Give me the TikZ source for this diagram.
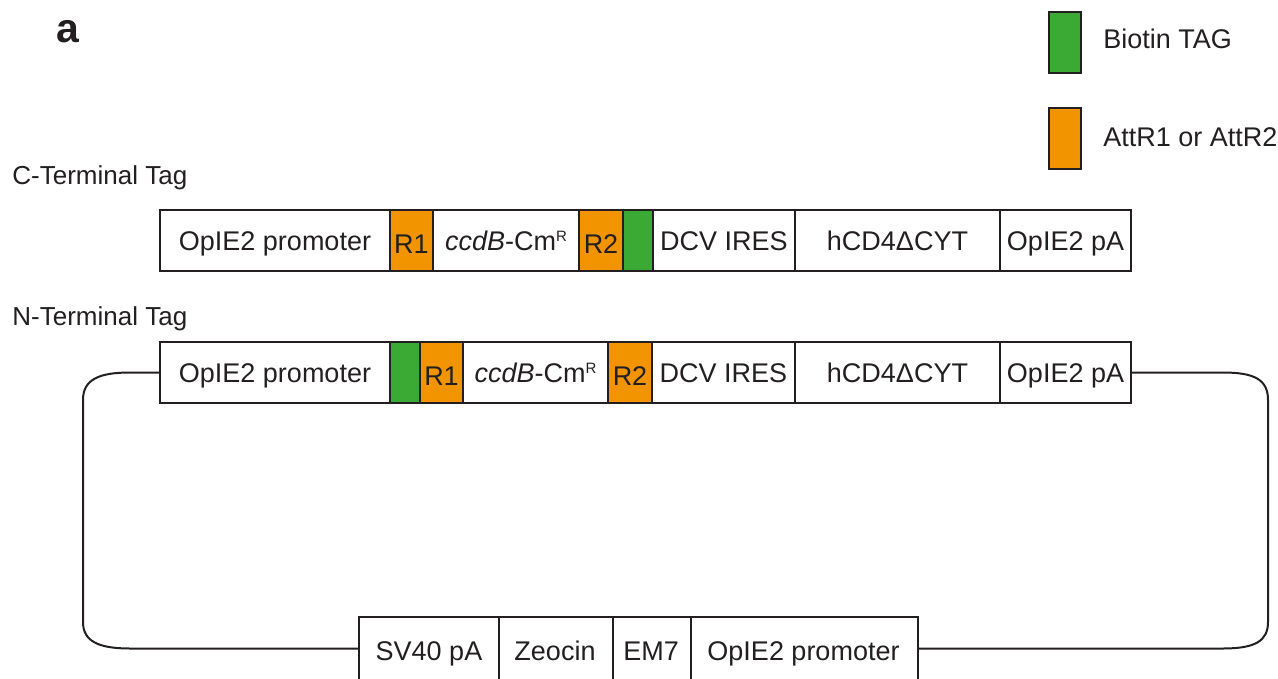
\documentclass[tikz,border=0pt]{standalone}
\usepackage{fontspec}
\setmainfont{Liberation Sans}
\definecolor{gr}{RGB}{58,170,53}
\definecolor{og}{RGB}{242,148,0}
\definecolor{ln}{RGB}{35,31,32}
\tikzset{
  seg/.style={draw=ln, line width=1pt, inner sep=0pt, minimum height=30.5pt,
    text height=9.67pt, text depth=0pt, font=\fontsize{13.5}{16}\selectfont, text=ln},
  rseg/.style={seg, fill=og, text height=12.67pt},
  gseg/.style={seg, fill=gr},
  bseg/.style={seg, draw=none, text height=11.5pt},
  lbl/.style={inner sep=0pt, anchor=base west, font=\fontsize{13.5}{16}\selectfont, text=ln},
  loopline/.style={draw=ln, line width=1pt},
}
\newcommand\segm[6]{\node[#1, minimum width={(#4-#3)*0.5pt}] (#2) at ({(#3+#4)/2}, #5) {#6};}
\newcommand\ccdbcm{\textit{ccdB}-Cm\raisebox{4.3pt}{\fontsize{7.5}{8}\selectfont R}}
\begin{document}
\begin{tikzpicture}[x=0.5pt, y=-0.5pt]
\useasboundingbox (0,0) rectangle (1278,679);
% panel label and titles
\node[lbl, font=\fontsize{20.5}{24}\selectfont\bfseries] (pa) at (56,43) {a};
\node[lbl, font=\fontsize{13}{16}\selectfont] (ct) at (12,185) {C-Terminal Tag};
\node[lbl, font=\fontsize{13}{16}\selectfont] (nt) at (12,325) {N-Terminal Tag};
% legend
\segm{gseg}{lg}{1049}{1081}{42.5}{}
\segm{seg, fill=og}{lo}{1049}{1081}{138.5}{}
\node[lbl] (lgt) at (1103,49) {Biotin TAG};
\node[lbl] (lot) at (1103,147) {AttR1 or AttR2};
% C-terminal row
\segm{seg}{c1}{160}{390}{240.5}{OpIE2 promoter}
\segm{rseg}{c2}{390}{433}{240.5}{R1}
\segm{seg}{c3}{433}{579}{240.5}{\ccdbcm}
\segm{rseg}{c4}{579}{623}{240.5}{R2}
\segm{gseg}{c5}{623}{653}{240.5}{}
\segm{seg}{c6}{653}{795}{240.5}{DCV IRES}
\segm{seg}{c7}{795}{1000}{240.5}{hCD4ΔCYT}
\segm{seg}{c8}{1000}{1131}{240.5}{OpIE2 pA}
% N-terminal row
\segm{seg}{n1}{160}{390}{372.5}{OpIE2 promoter}
\segm{gseg}{n2}{390}{420}{372.5}{}
\segm{rseg}{n3}{420}{463}{372.5}{R1}
\segm{seg}{n4}{463}{608}{372.5}{\ccdbcm}
\segm{rseg}{n5}{608}{652}{372.5}{R2}
\segm{seg}{n6}{652}{795}{372.5}{DCV IRES}
\segm{seg}{n7}{795}{1000}{372.5}{hCD4ΔCYT}
\segm{seg}{n8}{1000}{1131}{372.5}{OpIE2 pA}
% bottom row
\segm{bseg}{b1}{360}{498}{648.5}{SV40 pA}
\segm{bseg}{b2}{498}{612}{648.5}{Zeocin}
\segm{bseg}{b3}{612}{690}{648.5}{EM7}
\segm{bseg}{b4}{690}{917}{648.5}{OpIE2 promoter}
\draw[loopline] (b1.south west) -- (b1.north west) -- (b4.north east) -- (b4.south east);
\draw[loopline] (b1.north east) -- (b1.south east);
\draw[loopline] (b2.north east) -- (b2.south east);
\draw[loopline] (b3.north east) -- (b3.south east);
% plasmid backbone
\draw[loopline] (n1.west) -- (130,372.5) .. controls (98,372.5) and (83,380) .. (83,400)
  -- (83,622) .. controls (83,641) and (98,648.5) .. (130,648.5) -- (b1.west);
\draw[loopline] (n8.east) -- (1223,372.5) .. controls (1255,372.5) and (1268,380) .. (1268,400)
  -- (1268,622) .. controls (1268,641) and (1255,648.5) .. (1223,648.5) -- (b4.east);
\end{tikzpicture}
\end{document}
